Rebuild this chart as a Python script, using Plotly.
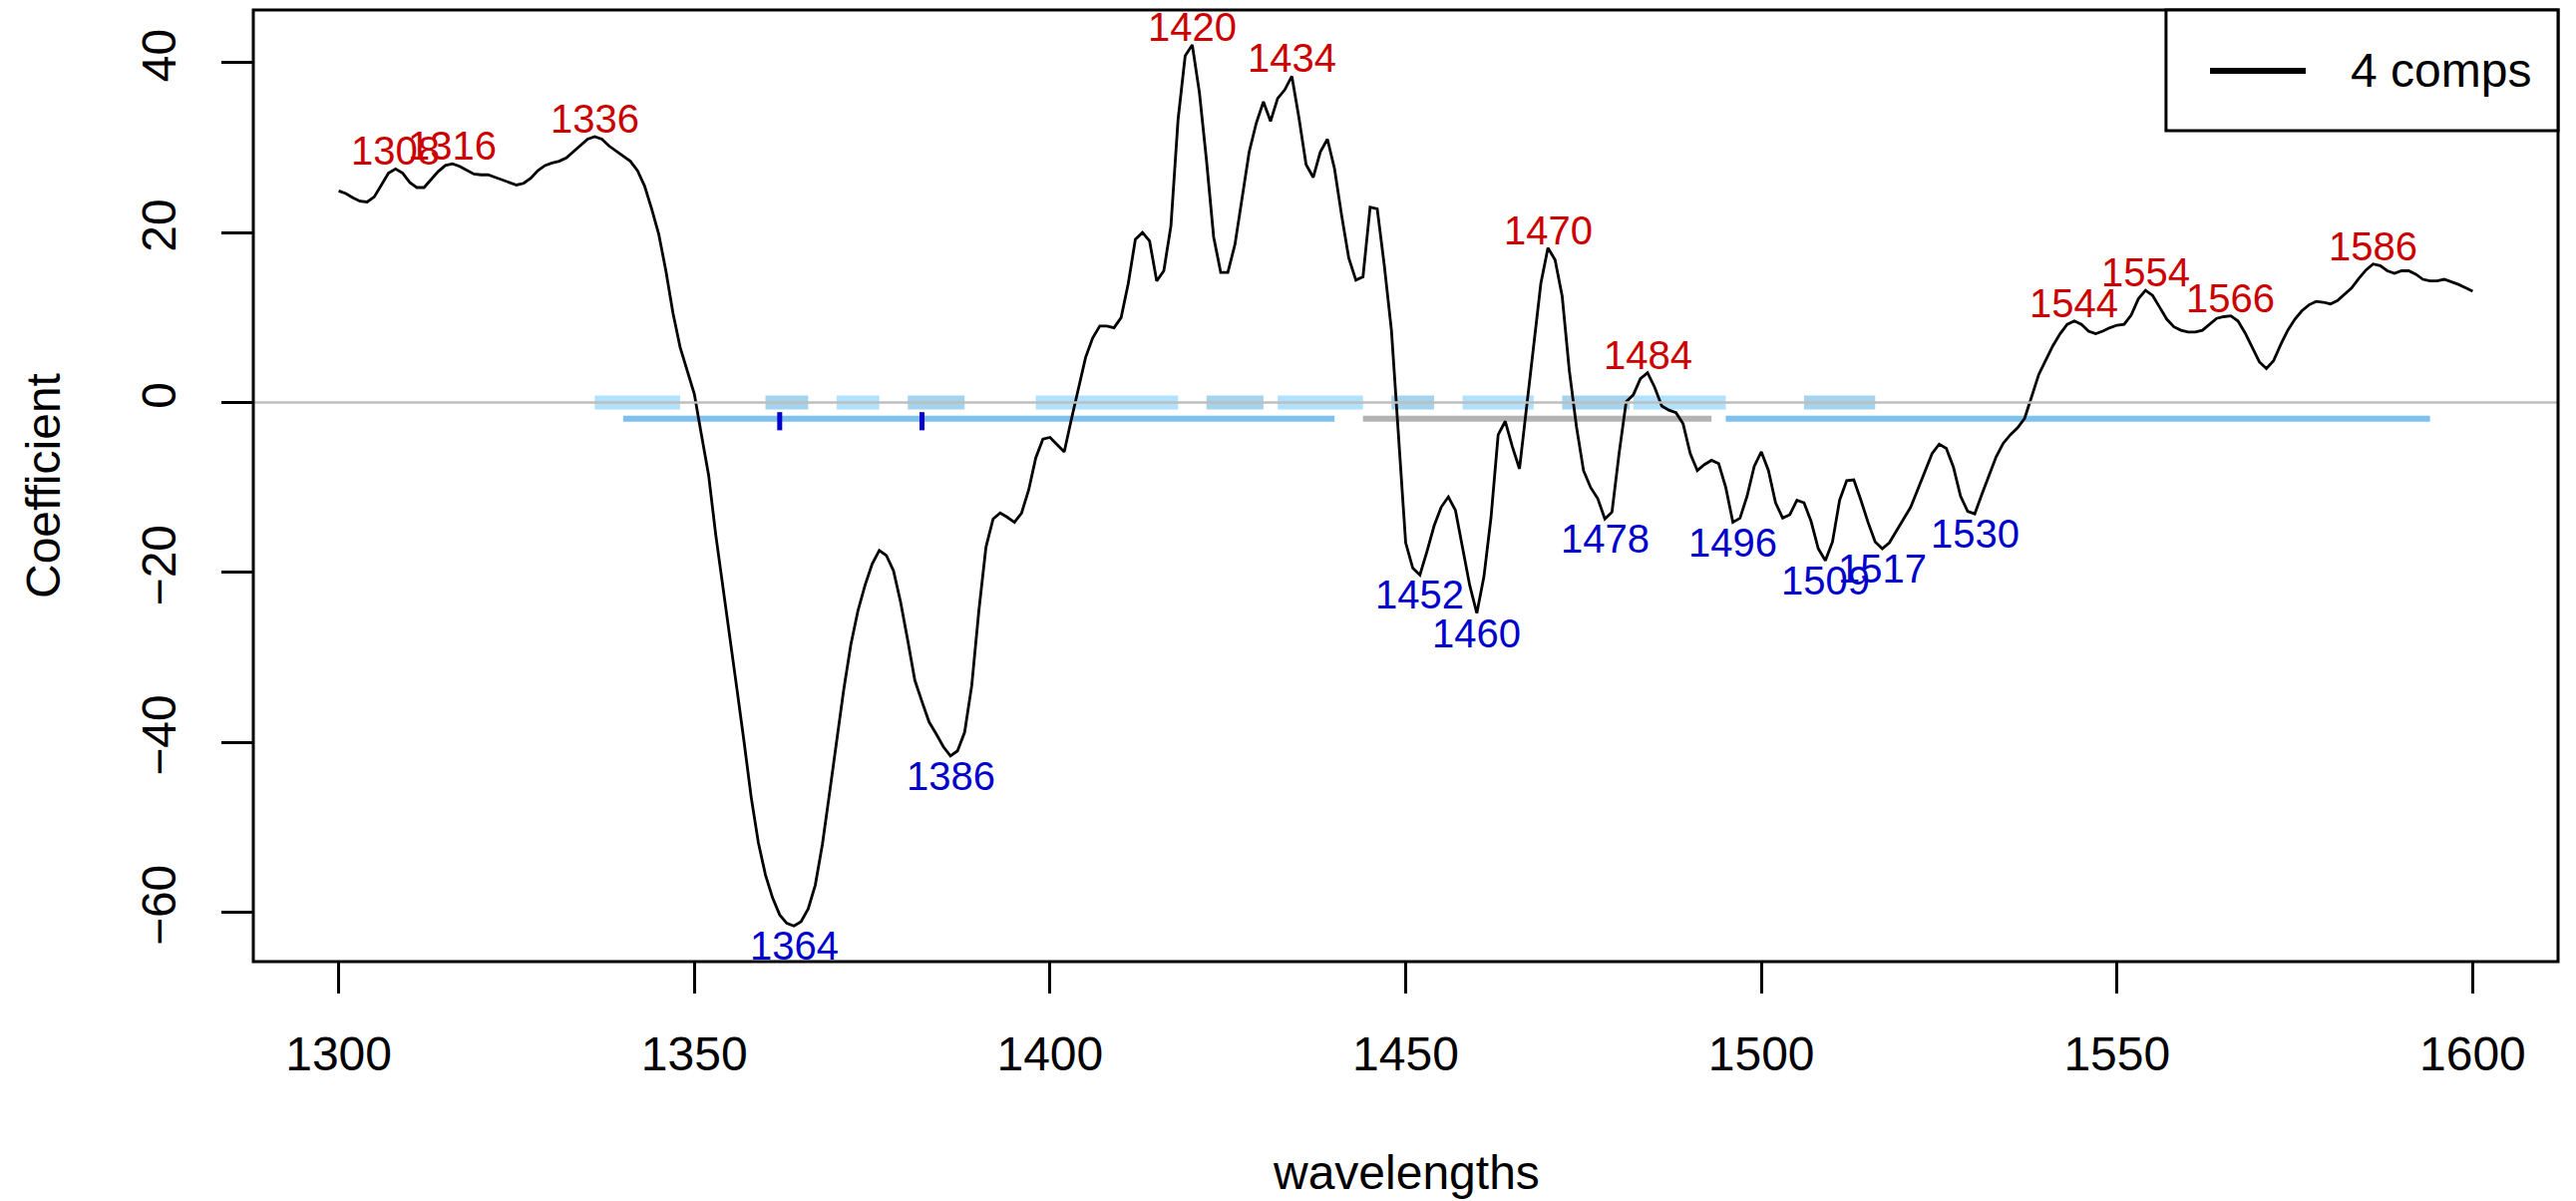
import plotly.graph_objects as go

# Regression coefficients of the 4-component model, one value per nm
wavelengths = list(range(1300, 1601))
coef = [
    24.9, 24.6, 24.1, 23.7, 23.6, 24.2, 25.6, 27.0, 27.5, 27.0,      # 1300
    25.9, 25.3, 25.3, 26.2, 27.2, 27.9, 28.1, 27.8, 27.3, 26.9,      # 1310
    26.8, 26.8, 26.5, 26.2, 25.9, 25.6, 25.8, 26.4, 27.3, 27.9,      # 1320
    28.2, 28.4, 28.8, 29.5, 30.3, 31.0, 31.3, 31.0, 30.2, 29.6,      # 1330
    29.1, 28.4, 27.3, 25.5, 22.8, 19.8, 15.5, 10.5, 6.5, 3.8,        # 1340
    1.0, -3.8, -8.5, -15.5, -21.8, -27.8, -33.8, -40.0, -46.5, -51.8,  # 1350
    -55.6, -58.3, -60.3, -61.3, -61.6, -61.1, -59.6, -56.8, -52.0, -46.0,  # 1360
    -40.0, -33.8, -28.5, -24.5, -21.5, -19.0, -17.4, -18.0, -19.8, -23.5,  # 1370
    -28.0, -32.7, -35.2, -37.6, -39.0, -40.5, -41.6, -41.0, -38.8, -33.3,  # 1380
    -24.5, -17.0, -13.7, -13.0, -13.5, -14.1, -13.0, -10.3, -6.5, -4.3,    # 1390
    -4.1, -5.0, -5.8, -2.0, 1.6, 5.3, 7.6, 9.0, 9.0, 8.8,            # 1400
    10.0, 14.0, 19.2, 20.0, 19.0, 14.3, 15.5, 20.8, 33.3, 40.8,      # 1410
    42.1, 36.5, 28.5, 19.5, 15.3, 15.3, 18.6, 24.0, 29.5, 32.9,      # 1420
    35.4, 33.1, 35.8, 36.8, 38.4, 33.5, 28.0, 26.5, 29.5, 31.0,      # 1430
    27.5, 22.0, 17.0, 14.4, 14.8, 23.0, 22.8, 16.1, 8.5, -4.0,       # 1440
    -16.5, -19.5, -20.3, -17.5, -14.5, -12.3, -11.1, -12.7, -17.0, -21.5,  # 1450
    -24.8, -20.5, -13.5, -3.8, -2.2, -5.2, -7.8, -0.5, 6.3, 14.0,    # 1460
    18.2, 16.8, 12.5, 3.8, -2.8, -8.0, -10.0, -11.3, -13.7, -12.9,   # 1470
    -6.0, 0.1, 0.9, 2.8, 3.5, 1.8, -0.4, -0.9, -1.2, -2.5,           # 1480
    -6.0, -8.0, -7.3, -6.8, -7.2, -10.0, -14.1, -13.6, -11.0, -7.5,  # 1490
    -5.8, -8.0, -11.8, -13.6, -13.2, -11.5, -11.8, -14.0, -17.2, -18.6,  # 1500
    -16.4, -11.5, -9.2, -9.1, -11.5, -14.1, -16.4, -17.2, -16.5, -15.1,  # 1510
    -13.7, -12.3, -10.2, -8.0, -6.0, -4.9, -5.4, -7.6, -11.0, -12.8,     # 1520
    -13.1, -10.8, -8.6, -6.4, -4.8, -3.8, -3.0, -1.9, 0.7, 3.3,      # 1530
    5.0, 6.7, 8.1, 9.2, 9.6, 9.2, 8.4, 8.1, 8.4, 8.8,                # 1540
    9.1, 9.2, 10.3, 12.2, 13.2, 12.6, 11.2, 9.8, 8.9, 8.5,           # 1550
    8.3, 8.3, 8.5, 9.2, 9.9, 10.1, 10.2, 9.6, 8.2, 6.5,              # 1560
    4.8, 4.0, 4.9, 6.8, 8.5, 9.8, 10.8, 11.5, 11.9, 11.8,            # 1570
    11.6, 12.0, 12.8, 13.5, 14.6, 15.6, 16.3, 16.1, 15.5, 15.2,      # 1580
    15.5, 15.5, 15.1, 14.5, 14.3, 14.3, 14.5, 14.2, 13.9, 13.5,      # 1590
    13.1,                                                            # 1600
]

# Local extrema that get a wavelength label
peak_wl = [1308, 1316, 1336, 1420, 1434, 1470, 1484, 1544, 1554, 1566, 1586]
trough_wl = [1364, 1386, 1452, 1460, 1478, 1496, 1509, 1517, 1530]

# Selected wavelength bands on the zero line (alternating shades)
bands_light = [(1336, 1348), (1370, 1376), (1398, 1418), (1432, 1444), (1458, 1468), (1482, 1495)]
bands_dark = [(1360, 1366), (1380, 1388), (1422, 1430), (1448, 1454), (1472, 1481.5), (1506, 1516)]

# Interval rows just below zero
intervals_blue = [(1340, 1440), (1495, 1594)]
intervals_gray = [(1444, 1493)]
interval_level = -1.9
marker_wl = [1362, 1382]
marker_level = -2.2

x_ticks = [1300, 1350, 1400, 1450, 1500, 1550, 1600]
y_ticks = [-60, -40, -20, 0, 20, 40]

FONT = "Liberation Sans, Arial, Helvetica, sans-serif"
RED = "#CD0000"
BLUE = "#0000CD"


def segments(pairs, level):
    xs, ys = [], []
    for a, b in pairs:
        xs += [a, b, None]
        ys += [level, level, None]
    return xs, ys


fig = go.Figure()

for pairs, color in [(bands_light, "#B0E2FF"), (bands_dark, "#A4D3EE")]:
    xs, ys = segments(pairs, 0)
    fig.add_trace(go.Scatter(x=xs, y=ys, mode="lines", line=dict(color=color, width=14),
                             hoverinfo="skip"))

# zero reference line across the whole panel
fig.add_shape(type="line", xref="paper", yref="y", x0=0, x1=1, y0=0, y1=0,
              line=dict(color="#BEBEBE", width=2.5), layer="above")

for pairs, color in [(intervals_blue, "#7EC0EE"), (intervals_gray, "#B3B3B3")]:
    xs, ys = segments(pairs, interval_level)
    fig.add_trace(go.Scatter(x=xs, y=ys, mode="lines", line=dict(color=color, width=6),
                             hoverinfo="skip"))

fig.add_trace(go.Scatter(x=marker_wl, y=[marker_level] * len(marker_wl), mode="markers",
                         marker=dict(symbol="line-ns", size=13,
                                     line=dict(color=BLUE, width=5)),
                         hoverinfo="skip"))

fig.add_trace(go.Scatter(x=wavelengths, y=coef, mode="lines", name="4 comps",
                         line=dict(color="black", width=2.8)))

for wl in peak_wl:
    fig.add_annotation(x=wl, y=coef[wavelengths.index(wl)], text=str(wl), showarrow=False,
                       yanchor="bottom", yshift=-6, font=dict(family=FONT, size=40, color=RED))
for wl in trough_wl:
    fig.add_annotation(x=wl, y=coef[wavelengths.index(wl)], text=str(wl), showarrow=False,
                       yanchor="top", yshift=4, font=dict(family=FONT, size=40, color=BLUE))

# axis titles
fig.add_annotation(xref="paper", yref="paper", x=0.5, y=-0.2216, text="wavelengths",
                   showarrow=False, xanchor="center", yanchor="middle",
                   font=dict(family=FONT, size=48, color="black"))
fig.add_annotation(xref="paper", yref="paper", x=-0.0913, y=0.5, text="Coefficient",
                   showarrow=False, xanchor="center", yanchor="middle", textangle=-90,
                   font=dict(family=FONT, size=48, color="black"))

# plot frame
fig.add_shape(type="rect", xref="paper", yref="paper", x0=0, x1=1, y0=0, y1=1,
              line=dict(color="black", width=3), layer="above")

# legend box
fig.add_shape(type="rect", xref="paper", yref="paper", x0=0.8299, x1=1.0, y0=0.8732, y1=1.0,
              line=dict(color="black", width=3), fillcolor="white", layer="above")
fig.add_shape(type="line", xref="paper", yref="paper", x0=0.849, x1=0.8905, y0=0.9361, y1=0.9361,
              line=dict(color="black", width=6), layer="above")
fig.add_annotation(xref="paper", yref="paper", x=0.9091, y=0.9361, text="4 comps",
                   showarrow=False, xanchor="left", yanchor="middle",
                   font=dict(family=FONT, size=48, color="black"))

fig.update_layout(
    template="none",
    width=2583, height=1204,
    margin=dict(l=254, r=18, t=10, b=240, pad=0),
    plot_bgcolor="white", paper_bgcolor="white",
    showlegend=False,
    font=dict(family=FONT, size=48, color="black"),
)
fig.update_xaxes(range=[1288, 1612], tickvals=x_ticks, ticks="outside", ticklen=31,
                 tickwidth=2.5, tickcolor="black", showgrid=False, zeroline=False,
                 showline=False, automargin=False, ticklabelstandoff=19,
                 tickfont=dict(family=FONT, size=48, color="black"))
fig.update_yaxes(range=[-65.8, 46.2], tickvals=y_ticks, ticks="outside", ticklen=31,
                 tickwidth=2.5, tickcolor="black", showgrid=False, zeroline=False,
                 showline=False, automargin=False, tickangle=-90, ticklabelstandoff=27,
                 tickfont=dict(family=FONT, size=48, color="black"))

fig.write_html("out.html")
